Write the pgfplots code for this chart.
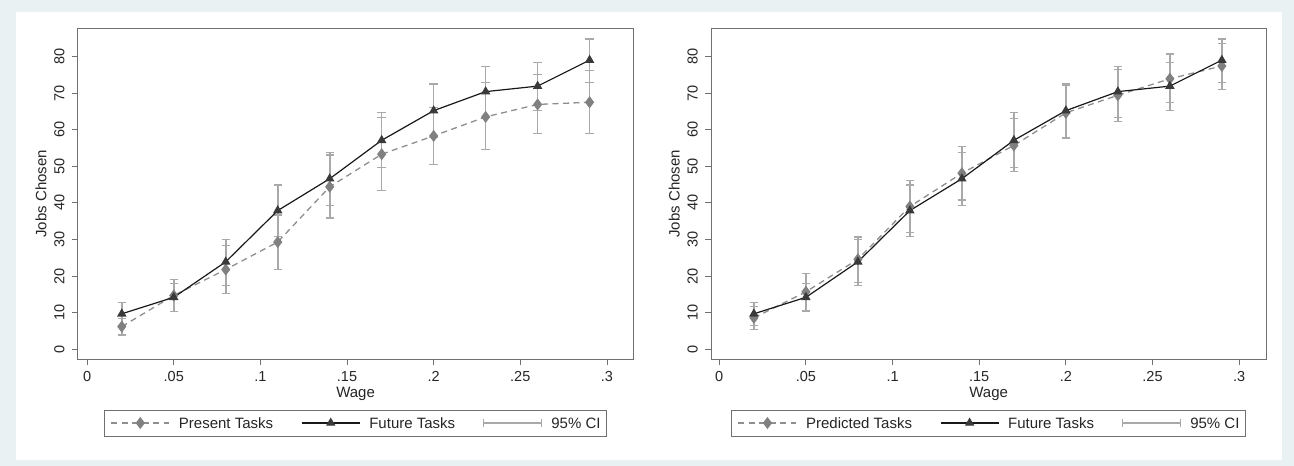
\documentclass[border=0pt]{standalone}
\usepackage{fontspec}
\setmainfont{Liberation Sans}
\usepackage{pgfplots}
\usepackage{pgfplotstable}
\pgfplotsset{compat=1.18}
\definecolor{bgout}{HTML}{E9F1F3}
\definecolor{cigray}{HTML}{A9A9A9}
\definecolor{diagray}{HTML}{808080}
\definecolor{dashgray}{HTML}{8E8E8E}
\definecolor{tridark}{HTML}{3A3A3A}
\definecolor{boxgray}{HTML}{707070}

% x  y  lo  hi
\pgfplotstableread{
x y lo hi
0.02 6.2 3.9 8.5
0.05 14.7 10.3 19.0
0.08 21.8 15.2 28.4
0.11 29.3 21.9 36.7
0.14 44.4 35.9 53.1
0.17 53.3 43.4 63.4
0.20 58.3 50.5 66.1
0.23 63.5 54.6 72.9
0.26 66.9 58.9 75.1
0.29 67.5 59.0 76.1
}\present
\pgfplotstableread{
x y lo hi
0.02 9.7 6.5 12.8
0.05 14.2 10.3 18.0
0.08 23.9 17.5 30.0
0.11 37.9 30.9 44.9
0.14 46.6 39.2 53.8
0.17 57.1 49.6 64.6
0.20 65.2 57.8 72.5
0.23 70.4 63.4 77.3
0.26 71.9 65.2 78.3
0.29 79.0 72.9 84.8
}\future
\pgfplotstableread{
x y lo hi
0.02 8.6 5.5 11.6
0.05 15.7 10.7 20.8
0.08 24.6 18.3 30.7
0.11 39.0 32.0 46.1
0.14 48.1 40.8 55.4
0.17 55.7 48.6 63.0
0.20 64.6 57.5 72.0
0.23 69.4 62.3 76.5
0.26 73.9 67.4 80.7
0.29 77.4 71.0 83.6
}\predicted

\pgfplotsset{
  statapanel/.style={
    scale only axis, height=331pt,
    ymin=-2.73, ymax=87.7,
    xtick={0,0.05,0.1,0.15,0.2,0.25,0.3},
    xticklabels={0,.05,.1,.15,.2,.25,.3},
    ytick={0,10,...,80},
    xtick pos=bottom, ytick pos=left,
    tick align=outside, major tick length=5.5pt,
    tick style={boxgray, line width=0.8pt},
    axis line style={boxgray, line width=0.8pt},
    /pgf/number format/assume math mode=true,
    every tick label/.append style={font=\fontsize{14.5}{17}\selectfont, text=black!85},
    yticklabel style={rotate=90, anchor=south},
    yticklabel shift=4pt, xticklabel shift=3pt,
    xlabel={Wage}, ylabel={Jobs Chosen},
    every axis x label/.style={at={(axis description cs:0.5,-0.106)}, anchor=center, font=\fontsize{15}{18}\selectfont, text=black!85},
    every axis y label/.style={at={(axis description cs:-0.066,0.5)}, rotate=90, anchor=center, font=\fontsize{15}{18}\selectfont, text=black!85},
    legend columns=3,
    legend style={at={(0.5,-0.194)}, anchor=center, draw=boxgray, line width=0.8pt,
      font=\fontsize{15}{18}\selectfont, text=black!85,
      inner xsep=6pt, inner ysep=7pt,
      nodes={inner sep=0pt, anchor=base west},
      /tikz/every odd column/.append style={column sep=9pt},
      /tikz/every even column/.append style={column sep=28pt}},
    legend cell align=left,
  },
  cistyle/.style={only marks, mark=none, forget plot,
    error bars/.cd, y dir=both, y explicit,
    error bar style={cigray, line width=1.6pt},
    error mark options={rotate=90, mark size=4.2pt, line width=1.2pt, cigray}},
  presstyle/.style={dashgray, line width=1.3pt, dash pattern=on 6pt off 4.5pt,
    mark=diamond*, mark size=5pt, mark options={solid, fill=diagray, draw=diagray}},
  futstyle/.style={black!90, line width=1.2pt,
    mark=triangle*, mark size=4.3pt, mark options={solid, fill=tridark, draw=tridark}},
  linelegend/.style={legend image code/.code={
    \draw[mark repeat=2, mark phase=2, ##1] plot coordinates {(0pt,5.2pt) (29pt,5.2pt) (58pt,5.2pt)};}},
  cilegend/.style={legend image code/.code={
    \draw[cigray, line width=1.2pt] (0pt,5.2pt) -- (58pt,5.2pt);
    \draw[cigray, line width=1.2pt] (0pt,1.2pt) -- (0pt,9.2pt);
    \draw[cigray, line width=1.2pt] (58pt,1.2pt) -- (58pt,9.2pt);}},
}

\begin{document}
\begin{tikzpicture}
\fill[bgout] (0pt,0pt) rectangle (1294pt,466pt);
\fill[white] (16pt,6pt) rectangle (1282pt,454pt);

\begin{axis}[statapanel, at={(77.6pt,106.7pt)}, anchor=south west,
  width=556pt, xmin=-0.0055, xmax=0.3154]
\addplot[cistyle] table[x=x, y=y, y error plus expr=\thisrow{hi}-\thisrow{y}, y error minus expr=\thisrow{y}-\thisrow{lo}] {\present};
\addplot[cistyle] table[x=x, y=y, y error plus expr=\thisrow{hi}-\thisrow{y}, y error minus expr=\thisrow{y}-\thisrow{lo}] {\future};
\addplot[presstyle, forget plot] table[x=x, y=y] {\present};
\addplot[futstyle, forget plot] table[x=x, y=y] {\future};
\addlegendimage{presstyle, linelegend}
\addlegendentry{Present Tasks}
\addlegendimage{futstyle, linelegend}
\addlegendentry{Future Tasks}
\addlegendimage{cilegend}
\addlegendentry{95\% CI}
\end{axis}

\begin{axis}[statapanel, at={(710.9pt,106.7pt)}, anchor=south west,
  width=555.5pt, xmin=-0.0048, xmax=0.3157]
\addplot[cistyle] table[x=x, y=y, y error plus expr=\thisrow{hi}-\thisrow{y}, y error minus expr=\thisrow{y}-\thisrow{lo}] {\predicted};
\addplot[cistyle] table[x=x, y=y, y error plus expr=\thisrow{hi}-\thisrow{y}, y error minus expr=\thisrow{y}-\thisrow{lo}] {\future};
\addplot[presstyle, forget plot] table[x=x, y=y] {\predicted};
\addplot[futstyle, forget plot] table[x=x, y=y] {\future};
\addlegendimage{presstyle, linelegend}
\addlegendentry{Predicted Tasks}
\addlegendimage{futstyle, linelegend}
\addlegendentry{Future Tasks}
\addlegendimage{cilegend}
\addlegendentry{95\% CI}
\end{axis}
\end{tikzpicture}
\end{document}
